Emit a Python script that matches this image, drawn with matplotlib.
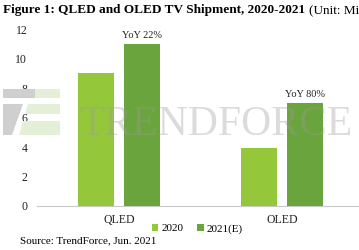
import numpy as np
import matplotlib.pyplot as plt
from matplotlib.patches import Polygon

categories = ['QLED', 'OLED']
series_names = ['2020', '2021(E)']
v2020 = [9.0, 3.9]
v2021 = [11.0, 7.0]
yoy_labels = ['YoY 22%', 'YoY 80%']
yticks = [0, 2, 4, 6, 8, 10, 12]

c2020 = '#94c83a'
c2021 = '#6aa43c'
serif = 'Liberation Serif'

W, H = 359, 250
fig = plt.figure(figsize=(3.59, 2.5), dpi=100)


def logo_piece(pts, color):
    # pts in pixel units from top-left
    xy = [[px / W, 1 - py / H] for px, py in pts]
    fig.patches.append(Polygon(xy, closed=True, transform=fig.transFigure,
                               facecolor=color, edgecolor='none', zorder=0))


# watermark logo
logo_piece([(3, 89), (35, 89), (35, 98), (3, 98)], '#cfcfcf')
logo_piece([(35, 89), (60, 89), (60, 98), (35, 98)], '#e4efd8')
logo_piece([(3, 104), (23, 104), (12, 135), (3, 135)], '#cfcfcf')
logo_piece([(28, 104), (60, 104), (60, 114), (25, 114)], '#e4efd8')
logo_piece([(23, 121), (60, 121), (60, 135), (19, 135)], '#e4efd8')

ax = fig.add_axes([0.103, 0.176, 0.897, 0.708])
ax.patch.set_visible(False)

x = np.arange(len(categories))
w = 0.22
off = 0.141
ax.bar(x - off, v2020, w, color=c2020, label=series_names[0], zorder=3)
ax.bar(x + off, v2021, w, color=c2021, label=series_names[1], zorder=3)

for xi, v, t in zip(x, v2021, yoy_labels):
    ax.text(xi + off, v + 0.25, t, ha='center', va='bottom',
            fontsize=7.5, family=serif, color='#222222')

ax.set_xlim(-0.503, 1.472)
ax.set_ylim(0, 12)
ax.set_yticks(yticks)
ax.set_xticks(x)
ax.set_xticklabels(categories)
for s in ['top', 'right', 'left']:
    ax.spines[s].set_visible(False)
ax.spines['bottom'].set_color('#c8c8c8')
ax.tick_params(axis='both', length=0, labelsize=8.5, colors='#222222')
ax.tick_params(axis='y', pad=7)
ax.tick_params(axis='x', pad=6)
for lab in ax.get_xticklabels() + ax.get_yticklabels():
    lab.set_family(serif)

fig.text(0.60, 0.50, 'TRENDFORCE', fontsize=30, family=serif,
         color='#9a9a9a', alpha=0.35, ha='center', va='center', zorder=0)

leg = fig.legend(loc='center', bbox_to_anchor=(0.55, 0.085), ncol=2,
                 frameon=False, handlelength=0.6,
                 handleheight=0.6, handletextpad=0.3, columnspacing=1.2,
                 prop={'family': serif, 'size': 8})

title = fig.text(0.008, 0.96, 'Figure 1: QLED and OLED TV Shipment, 2020-2021',
                 fontsize=9.5, fontweight='bold', family=serif, va='center')
fig.canvas.draw()
bb = title.get_window_extent().transformed(fig.transFigure.inverted())
fig.text(bb.x1 + 0.012, 0.96, '(Unit: Million)', fontsize=9.5,
         family=serif, va='center')
fig.text(0.055, 0.035, 'Source: TrendForce, Jun. 2021', fontsize=8,
         family=serif, va='center')

fig.savefig('out.png', dpi=100)
